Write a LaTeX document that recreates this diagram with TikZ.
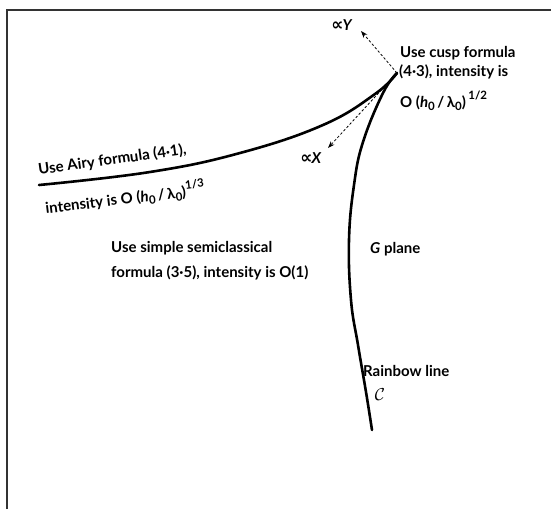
\documentclass[tikz,border=0pt]{standalone}
\usepackage{fontspec}
\setmainfont{Lato}
\newfontfamily\symfont{DejaVu Sans}
\usetikzlibrary{arrows.meta}
\newcommand\subz{\raisebox{-0.45ex}{\fontsize{11.5}{11}\selectfont 0}}
\newcommand\expo[1]{\raisebox{1.0ex}{\fontsize{11.5}{11}\selectfont #1}}
\newcommand\prop{{\symfont\bfseries\fontsize{17}{17}\selectfont ∝}}
\begin{document}
\begin{tikzpicture}[x=1pt,y=-1pt,
  lbl/.style={font=\bfseries\fontsize{15}{18}\selectfont, inner sep=0pt},
  curve/.style={line width=2.6pt, line cap=round, line join=round},
  dasharrow/.style={dash pattern=on 2.5pt off 2pt, line width=0.8pt, -{Stealth[length=7pt,width=5pt]}},
  frame/.style={line width=1.3pt, black!80}]
\useasboundingbox (0,0) rectangle (551,509);
\draw[frame] (7,509) -- (7,10) -- (551,10);
\coordinate (cusp) at (397,73);
\coordinate (yhead) at (361,31);
\coordinate (xhead) at (328,148);
\draw[curve] plot[smooth, tension=0.7] coordinates {(39,185) (150,172) (240,153) (323,125) (375,94) (397,73)};
\draw[curve] plot[smooth, tension=0.7] coordinates {(397,73) (383,93) (363,142) (354,185) (349,240) (351,300) (358,345) (366,392) (372,430)};
\draw[dasharrow] (cusp) -- (yhead);
\draw[dasharrow] (cusp) -- (xhead);
\node[lbl] (propY) at (342,25) {\prop\kern-1pt\textit{Y}};
\node[lbl] (propX) at (311,158) {\prop\kern-1pt\textit{X}};
\node[lbl, anchor=west] (cusp1) at (400,53) {Use cusp formula};
\node[lbl, anchor=west] (cusp2) at (399,72) {(4·3), intensity is};
\node[lbl, anchor=west] (cusp3) at (400,101) {O (\textit{h}\subz\,/\,λ\subz)\,\expo{1/2}};
\node[lbl, anchor=base west, rotate=8] (airy1) at (39,175) {Use Airy formula (4·1),};
\node[lbl, anchor=base west, rotate=7] (airy2) at (46,214) {intensity is O (\textit{h}\subz\,/\,λ\subz)\expo{1/3}};
\node[lbl, anchor=west] (simple1) at (111,248) {Use simple semiclassical};
\node[lbl, anchor=west] (simple2) at (111,273) {formula (3·5), intensity is O(1)};
\node[lbl, anchor=west] (gplane) at (370,249) {\textit{G} plane};
\node[lbl, anchor=west] (rainbow) at (363,371) {Rainbow line};
\node[lbl] (calC) at (380,395) {\fontsize{18}{18}\selectfont$\mathcal{C}$};
\end{tikzpicture}
\end{document}
